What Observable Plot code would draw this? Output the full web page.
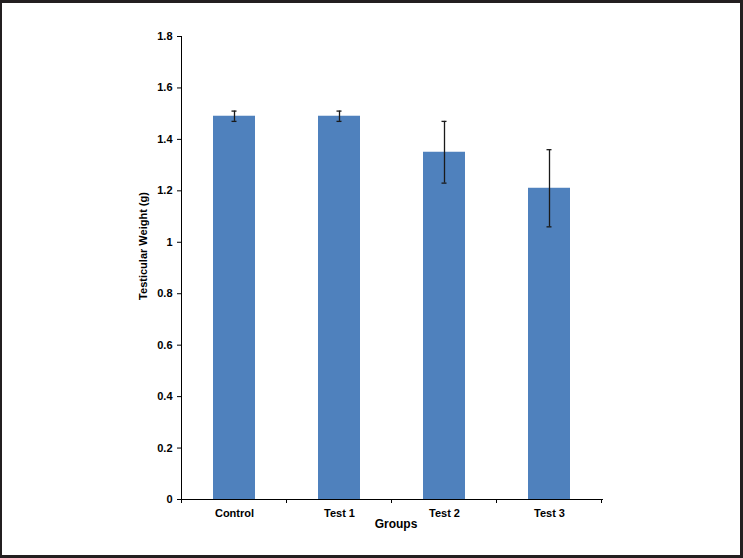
<!DOCTYPE html>
<html><head><meta charset="utf-8">
<script src="https://cdn.jsdelivr.net/npm/d3@7"></script>
<script src="https://cdn.jsdelivr.net/npm/@observablehq/plot@0.6"></script>
<style>
body{margin:0;background:#fff;}
#wrap{position:relative;width:743px;height:558px;overflow:hidden;background:#fff;}
#frame{position:absolute;left:0;top:0;width:743px;height:558px;box-sizing:border-box;border:3px solid #231f20;border-left-width:2px;pointer-events:none;}
svg{display:block;}
</style></head><body><div id="wrap"><div id="frame"></div></div>
<script>
const groups = ["Control", "Test 1", "Test 2", "Test 3"];
const means = [1.49, 1.49, 1.35, 1.21];
const errors = [0.02, 0.02, 0.12, 0.15];
const yTicks = [0, 0.2, 0.4, 0.6, 0.8, 1, 1.2, 1.4, 1.6, 1.8];
const xTitle = "Groups";
const yTitle = "Testicular Weight (g)";

const data = groups.map((g, i) => ({group: g, mean: means[i], lo: means[i] - errors[i], hi: means[i] + errors[i]}));

const boundaryTicks = (index, scales, values, dimensions) => {
  const x = scales.x;
  const step = typeof x.step === "function" ? x.step() : (dimensions.width - dimensions.marginLeft - dimensions.marginRight) / groups.length;
  const bw = typeof x.bandwidth === "function" ? x.bandwidth() : step * 0.4;
  const y0 = scales.y(0);
  const g = d3.create("svg:g").attr("stroke", "#000").attr("stroke-width", 1);
  const edges = groups.map(c => x(c) - (step - bw) / 2);
  edges.push(x(groups[groups.length - 1]) + bw + (step - bw) / 2);
  for (const e of edges) g.append("line").attr("x1", e).attr("x2", e).attr("y1", y0).attr("y2", y0 + 4);
  return g.node();
};

const chart = Plot.plot({
  width: 743,
  height: 558,
  marginLeft: 181,
  marginRight: 141,
  marginTop: 36,
  marginBottom: 59,
  style: {fontFamily: "'Liberation Sans', Arial, sans-serif", fontSize: "11px", fontWeight: "bold", color: "#000", background: "transparent"},
  x: {domain: groups, paddingInner: 0.6, paddingOuter: 0.3, tickSize: 0, tickPadding: 10, label: null, line: true},
  y: {domain: [0, 1.8], ticks: yTicks, tickFormat: d3.format("~g"), tickSize: 4, tickPadding: 5, label: null, line: true},
  marks: [
    Plot.barY(data, {x: "group", y: "mean", fill: "#4f81bd"}),
    Plot.ruleX(data, {x: "group", y1: "lo", y2: "hi", stroke: "#1a1a1a", strokeWidth: 1.3}),
    Plot.tickY(data, {x: "group", y: "lo", insetLeft: 18.5, insetRight: 18.5, stroke: "#1a1a1a", strokeWidth: 1.3}),
    Plot.tickY(data, {x: "group", y: "hi", insetLeft: 18.5, insetRight: 18.5, stroke: "#1a1a1a", strokeWidth: 1.3}),
    boundaryTicks,
    Plot.text([xTitle], {text: d => d, frameAnchor: "bottom", dy: 28, dx: 4, fontSize: 12, fontWeight: "bold", fill: "#000"}),
    Plot.text([yTitle], {text: d => d, frameAnchor: "left", textAnchor: "middle", rotate: -90, dx: -38, dy: -22, fontSize: 11, fontWeight: "bold", fill: "#000"})
  ]
});
document.getElementById("wrap").insertBefore(chart, document.getElementById("frame"));
chart.style.position = "absolute";
chart.style.left = "0";
chart.style.top = "0";
</script>
</body></html>
